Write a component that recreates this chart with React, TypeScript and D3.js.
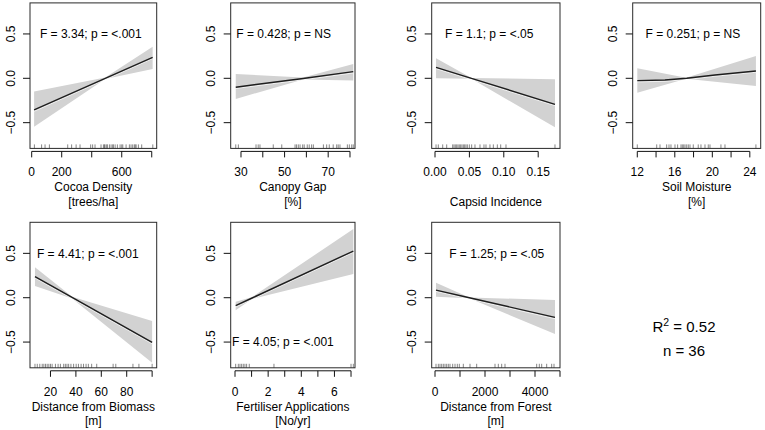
import * as d3 from 'd3'

// ---- values ----

// Cocoa Density [trees/ha]
const cocoaX = [16, 490, 806]
const cocoaFit = [-0.357, 0.0, 0.237]
const cocoaLower = [-0.545, -0.008, 0.105]
const cocoaUpper = [-0.15, 0.008, 0.356]
const cocoaRug = [18, 66, 89, 118, 240, 266, 296, 322, 393, 406, 422, 462, 478, 485, 489, 500, 504, 518, 529, 540,
  544, 556, 571, 589, 600, 607, 629, 651, 662, 673, 684, 690, 696, 711, 733, 807]

// Canopy Gap [%]
const gapX = [27.6, 58.5, 81.5]
const gapFit = [-0.1, -0.002, 0.075]
const gapLower = [-0.233, -0.012, -0.026]
const gapUpper = [0.05, 0.008, 0.16]
const gapRug = [27.6, 28.8, 36.9, 37.9, 38.7, 44.8, 48.7, 54.8, 55.5, 56.3, 57.1, 58.3, 59.0, 60.4, 61.3, 62.4,
  63.2, 67.8, 69.3, 70.5, 72.3, 73.9, 74.6, 75.4, 78.8, 79.7, 80.8, 81.5]

// Capsid Incidence
const capsidX = [0.0015, 0.053, 0.1744]
const capsidFit = [0.124, 0.0, -0.293]
const capsidLower = [0.0, -0.006, -0.553]
const capsidUpper = [0.226, 0.004, -0.011]
const capsidRug = [0.0015, 0.0048, 0.0112, 0.017, 0.0257, 0.0276, 0.0295, 0.0315, 0.0334, 0.0353, 0.0373, 0.0392,
  0.0412, 0.0431, 0.045, 0.047, 0.0499, 0.0533, 0.0581, 0.0654, 0.0712, 0.0741, 0.0799, 0.0848, 0.0906, 0.0955,
  0.1032, 0.1744]

// Soil Moisture [%]
const soilFitX = [12.0, 14.95, 17.27, 20.28, 24.65]
const soilFit = [-0.026, -0.019, 0.0, 0.038, 0.083]
const soilX = [12.0, 17.2, 24.65]
const soilLower = [-0.162, -0.006, -0.086]
const soilUpper = [0.113, 0.006, 0.252]
const soilRug = [12.0, 14.07, 14.42, 15.13, 15.38, 15.59, 16.02, 16.3, 16.66, 16.8, 16.95, 17.09, 17.27, 17.44,
  17.62, 17.97, 18.5, 18.79, 19.22, 19.57, 19.75, 20.92, 21.35, 24.65]

// Distance from Biomass [m]
const biomassX = [7.8, 37, 100]
const biomassFit = [0.237, 0.003, -0.504]
const biomassLower = [0.132, -0.008, -0.733]
const biomassUpper = [0.342, 0.012, -0.263]
const biomassRug = [7.8, 9.6, 11.6, 13.5, 14.8, 16.1, 17.4, 18.7, 20, 21.3, 23.9, 26, 27.8, 30.4, 31.7, 33, 34.3,
  36.1, 38.2, 40.2, 42, 44.1, 46, 48, 49.8, 52.4, 56.4, 69.3, 71.4, 84.9, 89.6, 100]

// Fertiliser Applications [No/yr]
const fertX = [0.04, 1.0, 7.14]
const fertFit = [-0.09, -0.006, 0.526]
const fertLower = [-0.14, -0.016, 0.267]
const fertUpper = [-0.045, 0.004, 0.774]
const fertRug = [0.04, 0.2, 0.3, 0.4, 0.5, 0.6, 0.7, 0.86, 2.35, 7.0, 7.14]

// Distance from Forest [m]
const forestX = [40, 1373, 4800]
const forestFit = [0.086, 0.0, -0.222]
const forestLower = [0.011, -0.005, -0.41]
const forestUpper = [0.169, 0.003, -0.026]
const forestRug = [40, 133, 200, 267, 333, 400, 467, 533, 600, 707, 800, 893, 973, 1133, 1400, 1667, 2400, 2533,
  2667, 2800, 4067, 4173, 4267, 4467, 4667, 4760]

const statLabels = [
  'F = 3.34; p = <.001', 'F = 0.428; p = NS', 'F = 1.1; p = <.05', 'F = 0.251; p = NS',
  'F = 4.41; p = <.001', 'F = 4.05; p = <.001', 'F = 1.25; p = <.05',
]
const yTicks = [-0.5, 0, 0.5]
const yTickLabels = ['\u22120.5', '0.0', '0.5']

// ---- layout ----
const FONT = '"Liberation Sans", Arial, Helvetica, sans-serif'
const COLS = [
  { left: 30, right: 156.7 },
  { left: 230.7, right: 355 },
  { left: 431.7, right: 560 },
  { left: 632.7, right: 760.7 },
]
const ROWS = [{ top: 2.9, bottom: 148.4 }, { top: 222.3, bottom: 367.8 }]
const Y_DOMAIN: [number, number] = [-0.79, 0.85]

interface Panel {
  col: number
  row: number
  xDomain: [number, number]
  ticks: number[]
  labeled: number[]
  fmt: (v: number) => string
  title: [string, string]
  stat: string
  statFrac: number
  statY: number
  fitX: number[]
  fit: number[]
  bandX: number[]
  lower: number[]
  upper: number[]
  rug: number[]
}

const intFmt = (v: number) => String(v)

const panels: Panel[] = [
  { col: 0, row: 0, xDomain: [-11.3, 833], ticks: [0, 200, 400, 600, 800], labeled: [0, 200, 600], fmt: intFmt,
    title: ['Cocoa Density', '[trees/ha]'], stat: statLabels[0], statFrac: 0.48, statY: 0.5,
    fitX: cocoaX, fit: cocoaFit, bandX: cocoaX, lower: cocoaLower, upper: cocoaUpper, rug: cocoaRug },
  { col: 1, row: 0, xDomain: [25.28, 82.3], ticks: [30, 40, 50, 60, 70, 80], labeled: [30, 50, 70], fmt: intFmt,
    title: ['Canopy Gap', '[%]'], stat: statLabels[1], statFrac: 0.426, statY: 0.5,
    fitX: gapX, fit: gapFit, bandX: gapX, lower: gapLower, upper: gapUpper, rug: gapRug },
  { col: 2, row: 0, xDomain: [-0.0048, 0.1817], ticks: [0, 0.05, 0.1, 0.15], labeled: [0, 0.05, 0.1, 0.15],
    fmt: d3.format('.2f'), title: ['', 'Capsid Incidence'], stat: statLabels[2], statFrac: 0.448, statY: 0.5,
    fitX: capsidX, fit: capsidFit, bandX: capsidX, lower: capsidLower, upper: capsidUpper, rug: capsidRug },
  { col: 3, row: 0, xDomain: [11.51, 25.16], ticks: [12, 14, 16, 18, 20, 22, 24], labeled: [12, 16, 20, 24],
    fmt: intFmt, title: ['Soil Moisture', '[%]'], stat: statLabels[3], statFrac: 0.47, statY: 0.5,
    fitX: soilFitX, fit: soilFit, bandX: soilX, lower: soilLower, upper: soilUpper, rug: soilRug },
  { col: 0, row: 1, xDomain: [3.88, 103.6], ticks: [20, 40, 60, 80, 100], labeled: [20, 40, 60, 80], fmt: intFmt,
    title: ['Distance from Biomass', '[m]'], stat: statLabels[4], statFrac: 0.456, statY: 0.5,
    fitX: biomassX, fit: biomassFit, bandX: biomassX, lower: biomassLower, upper: biomassUpper, rug: biomassRug },
  { col: 1, row: 1, xDomain: [-0.26, 7.24], ticks: [0, 1, 2, 3, 4, 5, 6, 7], labeled: [0, 2, 4, 6], fmt: intFmt,
    title: ['Fertiliser Applications', '[No/yr]'], stat: statLabels[5], statFrac: 0.42, statY: -0.5,
    fitX: fertX, fit: fertFit, bandX: fertX, lower: fertLower, upper: fertUpper, rug: fertRug },
  { col: 2, row: 1, xDomain: [-132, 5000], ticks: [0, 1000, 2000, 3000, 4000, 5000], labeled: [0, 2000, 4000],
    fmt: intFmt, title: ['Distance from Forest', '[m]'], stat: statLabels[6], statFrac: 0.507, statY: 0.5,
    fitX: forestX, fit: forestFit, bandX: forestX, lower: forestLower, upper: forestUpper, rug: forestRug },
]

const EffectPanel = ({ p }: { p: Panel }) => {
  const { left, right } = COLS[p.col]
  const { top, bottom } = ROWS[p.row]
  const x = d3.scaleLinear().domain(p.xDomain).range([left, right])
  const y = d3.scaleLinear().domain(Y_DOMAIN).range([bottom, top])

  const band = d3.area<number>()
    .x((_, i) => x(p.bandX[i]))
    .y0((_, i) => y(p.lower[i]))
    .y1((_, i) => y(p.upper[i]))(p.bandX) as string
  const fitPath = d3.line<number>()
    .x((_, i) => x(p.fitX[i]))
    .y((_, i) => y(p.fit[i]))(p.fitX) as string

  const axisY = bottom + 3
  const ticks = p.ticks.filter((t) => x(t) >= left - 0.5 && x(t) <= right + 0.5)

  return (
    <g>
      <path d={band} fill="#d2d2d2" stroke="none" />
      <path d={fitPath} transform="translate(0,1.3)" fill="none" stroke="#ffffff" strokeWidth={0.8} opacity={0.85} />
      <path d={fitPath} fill="none" stroke="#1e1e1e" strokeWidth={1.4} />
      {p.rug.map((v, i) => (
        <line key={i} x1={x(v)} x2={x(v)} y1={bottom} y2={bottom - 4} stroke="#555" strokeWidth={0.7} />
      ))}
      <rect x={left} y={top} width={right - left} height={bottom - top} fill="none" stroke="#2a2a2a" strokeWidth={1} />

      {/* x axis */}
      <line x1={x(ticks[0])} x2={x(ticks[ticks.length - 1])} y1={axisY} y2={axisY} stroke="#111" strokeWidth={1} />
      {ticks.map((t) => (
        <line key={t} x1={x(t)} x2={x(t)} y1={axisY} y2={axisY + 6} stroke="#111" strokeWidth={1} />
      ))}
      {p.labeled.map((t) => (
        <text key={t} x={x(t)} y={bottom + 28} textAnchor="middle" fontSize={12}>{p.fmt(t)}</text>
      ))}
      <text x={(left + right) / 2} y={bottom + 43} textAnchor="middle" fontSize={12}>{p.title[0]}</text>
      <text x={(left + right) / 2} y={bottom + 57.4} textAnchor="middle" fontSize={12}>{p.title[1]}</text>

      {/* y axis */}
      {yTicks.map((t, i) => (
        <g key={t}>
          <line x1={left - 7} x2={left} y1={y(t)} y2={y(t)} stroke="#111" strokeWidth={1} />
          <text transform={`translate(${left - 15.5},${y(t)}) rotate(-90)`} textAnchor="middle" fontSize={12}>
            {yTickLabels[i]}
          </text>
        </g>
      ))}

      <text x={left + p.statFrac * (right - left)} y={y(p.statY)} dy="0.36em" textAnchor="middle" fontSize={12}>
        {p.stat}
      </text>
    </g>
  )
}

export default function App() {
  return (
    <svg width={765} height={430} style={{ position: 'absolute', left: 0, top: 0, background: '#fff' }}
      fontFamily={FONT}>
      <rect width={765} height={430} fill="#fff" />
      {panels.map((p, i) => <EffectPanel key={i} p={p} />)}
      <text x={684} y={331.7} textAnchor="middle" fontSize={15}>
        R<tspan fontSize={10.5} dy={-6}>2</tspan><tspan dy={6}> = 0.52</tspan>
      </text>
      <text x={684} y={356} textAnchor="middle" fontSize={15}>n = 36</text>
    </svg>
  )
}
